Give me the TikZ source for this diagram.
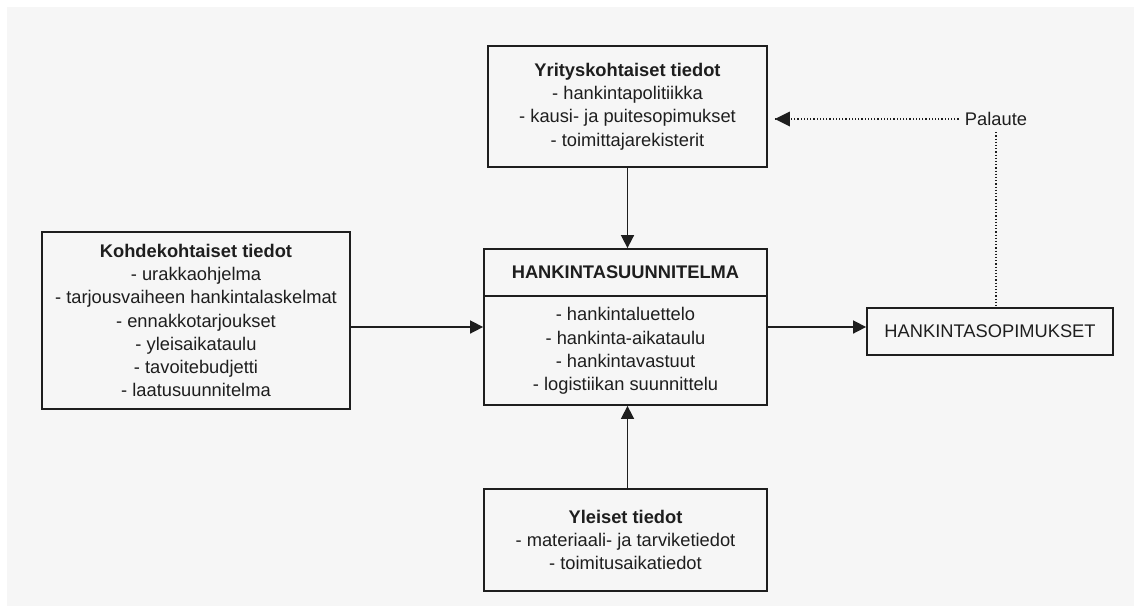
\documentclass[tikz,border=0pt]{standalone}
\usepackage{fontspec}
\setmainfont{Liberation Sans}
\usetikzlibrary{arrows.meta,calc}
\definecolor{ink}{HTML}{1E1E1E}
\definecolor{paper}{HTML}{F6F6F6}
\begin{document}
\begin{tikzpicture}[x=0.5pt,y=-0.5pt,
  txt/.style={font=\fontsize{9.15}{11.6}\selectfont, text=ink, align=center},
  infobox/.style={txt, draw=ink, line width=0.9pt, inner sep=0pt},
  flow/.style={draw=ink, line width=0.8pt, -{Triangle[length=6.5pt,width=6.5pt]}},
  feedback/.style={draw=ink, line width=0.6pt, densely dotted},
]
% page
\useasboundingbox (0,0) rectangle (1134,606);
\fill[white] (0,0) rectangle (1134,606);
\fill[paper] (7,7) rectangle (1134,606);

% company-level data
\node[infobox, minimum width=139.5pt, minimum height=60.5pt] (firm) at (627.5,106.5)
  {\textbf{Yrityskohtaiset tiedot}\\- hankintapolitiikka\\- kausi- ja puitesopimukset\\- toimittajarekisterit};

% project-level data
\node[infobox, minimum width=154pt, minimum height=88.5pt] (project) at (196,320.5)
  {\textbf{Kohdekohtaiset tiedot}\\- urakkaohjelma\\- tarjousvaiheen hankintalaskelmat\\- ennakkotarjoukset\\- yleisaikataulu\\- tavoitebudjetti\\- laatusuunnitelma};

% procurement plan (two-part box)
\node[draw=ink, line width=0.9pt, minimum width=141.5pt, minimum height=78pt, inner sep=0pt] (plan) at (625.5,327) {};
\coordinate (split) at (625.5,296);
\draw[ink, line width=0.9pt] (plan.west |- split) -- (plan.east |- split);
\node[txt] (plantitle) at (625.5,272.5) {\textbf{HANKINTASUUNNITELMA}};
\node[txt] (planbody) at (625.5,351)
  {- hankintaluettelo\\- hankinta-aikataulu\\- hankintavastuut\\- logistiikan suunnittelu};

% general data
\node[infobox, minimum width=141.5pt, minimum height=51pt] (general) at (625.5,540)
  {\textbf{Yleiset tiedot}\\- materiaali- ja tarviketiedot\\- toimitusaikatiedot};

% procurement contracts
\node[infobox, minimum width=123pt, minimum height=23.5pt] (contracts) at (990,331.5)
  {HANKINTASOPIMUKSET};

% feedback label
\node[txt, inner sep=3pt] (fb) at (996,119) {Palaute};

% main flows
\draw[flow] (firm.south) -- (firm.south |- plan.north);
\draw[flow] (general.north -| firm.south) -- (firm.south |- plan.south);
\draw[flow] (plan.west -| project.east) -- (plan.west);
\draw[flow] (plan.east) -- (plan.east -| contracts.west);

% feedback loop
\draw[feedback] (fb.south) -- (fb.south |- contracts.north);
\draw[feedback, shorten >=3.5pt] (fb.west) -- (fb.west -| firm.east);
\fill[ink] ($(fb.west -| firm.east)+(7,0)$) -- ++(15,-7.5) -- ++(0,15) -- cycle;
\end{tikzpicture}
\end{document}
